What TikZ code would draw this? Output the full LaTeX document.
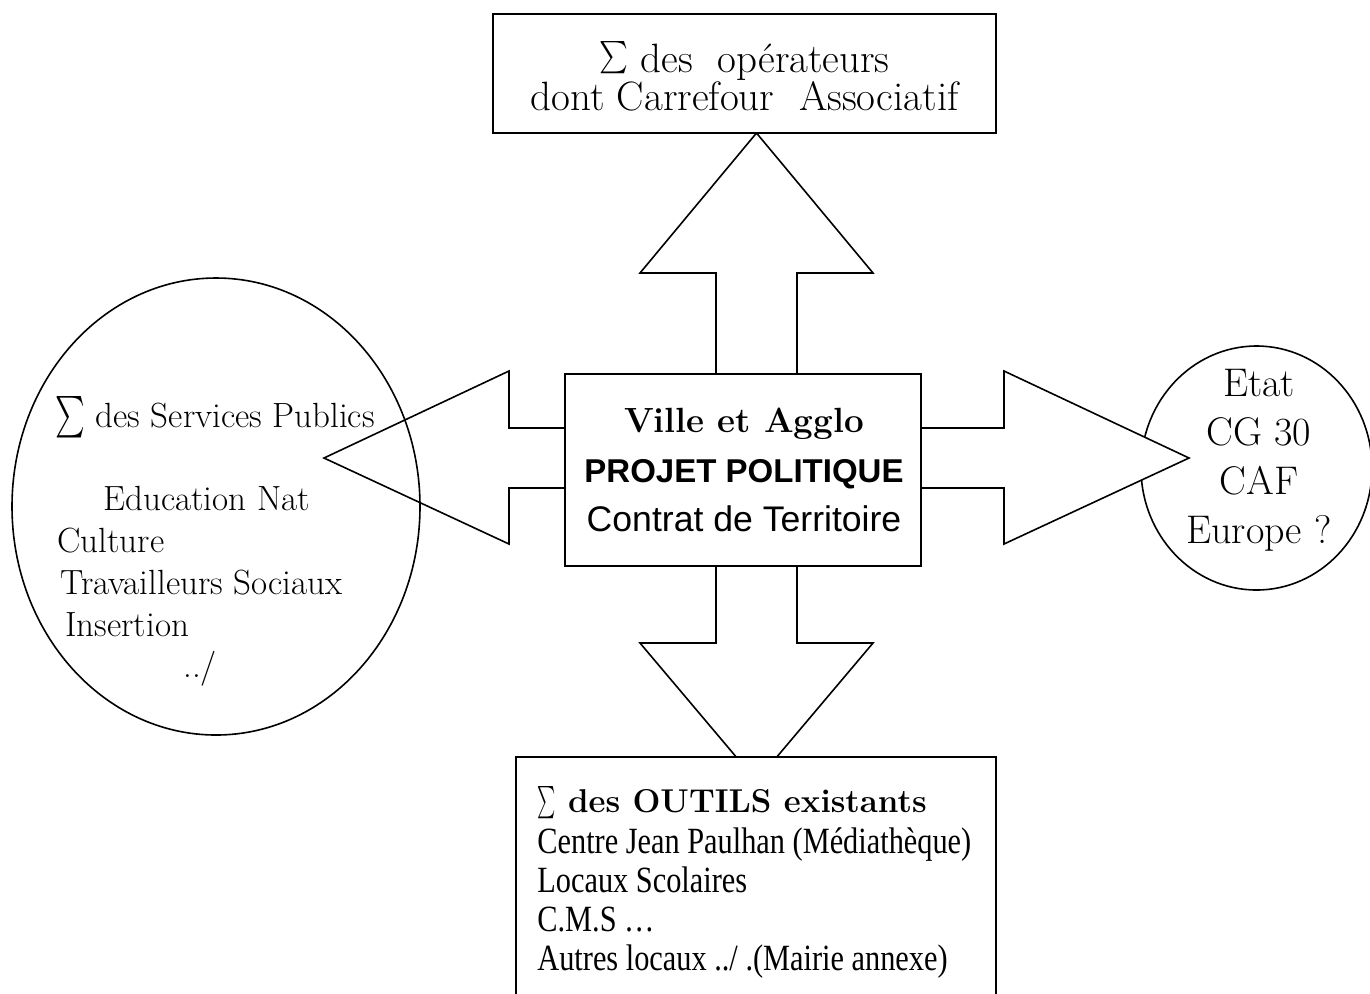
\documentclass[tikz,border=0pt]{standalone}
\usepackage{exscale}
\usepackage{graphicx}
\usepackage{fontspec}
\newfontfamily\arialf{Liberation Sans}
\newfontfamily\timesf[FakeStretch=0.82]{Liberation Serif}
\usetikzlibrary{shapes.geometric}
% grand sigma : largeur, hauteur, taille, decalage vertical
\newcommand{\somme}[4]{\raisebox{#4}{\scalebox{#1}[#2]{\fontsize{#3}{#3}\selectfont$\sum$}}}
\tikzset{
  cadre/.style={draw,fill=white,line width=0.8pt,inner sep=0pt},
  rond/.style={ellipse,draw,line width=0.8pt,inner sep=0pt},
  fleche/.style={draw,fill=white,line width=0.8pt,line join=miter},
  texte/.style={inner sep=0pt,align=center},
  liste/.style={inner sep=0pt,align=left,anchor=north west},
}

\begin{document}
\begin{tikzpicture}[x=0.5pt,y=-0.5pt]
  \useasboundingbox (0,0) rectangle (1370,993);
  \clip (0,0) rectangle (1370,993);
  % partenaires
  \node[rond,minimum width=115.5pt,minimum height=122pt] (etat) at (1256.5,468) {};
  % grosses fleches
  \draw[fleche] (716,374) -- (716,273) -- (640,273) -- (756.5,133) -- (873,273) -- (797,273) -- (797,374) -- cycle;
  \draw[fleche] (716,566) -- (716,643) -- (640,643) -- (756.5,781) -- (873,643) -- (797,643) -- (797,566) -- cycle;
  \draw[fleche] (565,428) -- (509,428) -- (509,371) -- (324,458) -- (509,544) -- (509,488) -- (565,488) -- cycle;
  \draw[fleche] (921,428) -- (1004,428) -- (1004,371) -- (1189,458) -- (1004,544) -- (1004,488) -- (921,488) -- cycle;
  \node[rond,minimum width=204pt,minimum height=228.5pt] (services) at (216,506.5) {};
  % cadres
  \node[cadre,minimum width=178pt,minimum height=96pt] (ville) at (743,470) {};
  \node[cadre,minimum width=251.5pt,minimum height=59.5pt] (ops) at (744.5,73.5) {};
  \node[cadre,minimum width=240pt,minimum height=130pt] (outils) at (756,887) {};
  % textes
  \node[texte,font=\fontsize{20.5}{19}\selectfont] (opstxt) at (744.5,76)
    {\somme{0.95}{1.12}{14.4}{3.5pt} des\ \ opérateurs\\dont Carrefour\ \ Associatif};
  \node[texte,font=\fontsize{17.5}{24.75}\selectfont] (villetxt) at (744,470)
    {{\bfseries Ville et Agglo}\\{\arialf\bfseries\fontsize{16.5}{24.75}\selectfont PROJET POLITIQUE}\\{\arialf\fontsize{17.8}{24.75}\selectfont Contrat de Territoire}};
  \node[texte,font=\fontsize{20}{24.5}\selectfont] (etattxt) at (1259,460)
    {Etat\\CG 30\\CAF\\Europe ?};
  \node[liste,font=\fontsize{17.5}{20.85}\selectfont] (servtxt) at (55,396)
    {\somme{0.68}{1}{20.74}{0pt} des Services Publics\\[20.85pt]
     \hspace*{24pt}Education Nat\\
     \hspace*{1pt}Culture\\
     \hspace*{2.5pt}Travailleurs Sociaux\\
     \hspace*{5pt}Insertion\\
     \hspace*{64pt}../};
  \node[liste,font=\timesf\fontsize{18.5}{19.5}\selectfont] (outilstxt) at (537,786)
    {{\rmfamily\bfseries\fontsize{16.5}{19.5}\selectfont \somme{0.6}{1.12}{14.4}{1pt} des OUTILS existants}\\[1pt]
     Centre Jean Paulhan (Médiathèque)\\
     Locaux Scolaires\\
     C.M.S …\\
     Autres locaux ../ .(Mairie annexe)};
\end{tikzpicture}
\end{document}
